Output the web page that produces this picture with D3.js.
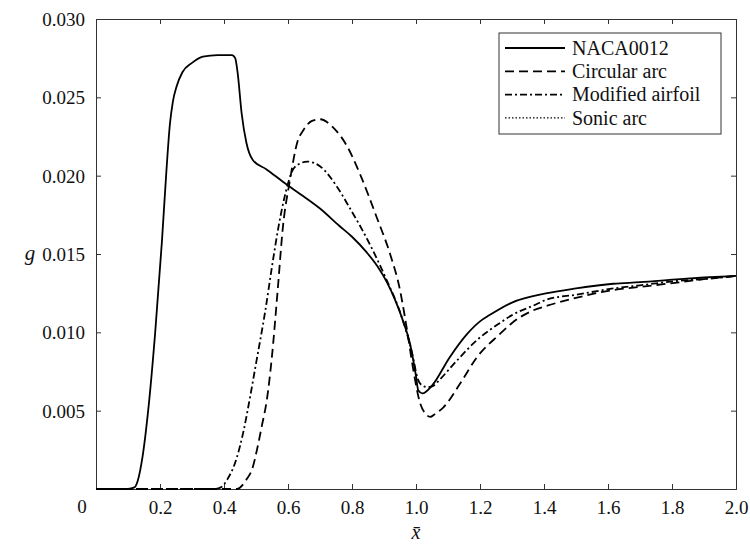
<!DOCTYPE html>
<html>
<head>
<meta charset="utf-8">
<script src="https://cdn.jsdelivr.net/npm/d3@7/dist/d3.min.js"></script>
<style>
  body { margin: 0; background: #fff; }
  svg text { font-family: "Liberation Serif", "DejaVu Serif", "Times New Roman", serif; fill: #111; }
</style>
</head>
<body>
<div id="chart"></div>
<script>
// x-bar positions and g values
const nacaX = [0, 0.10, 0.12, 0.13, 0.145, 0.163, 0.185, 0.206, 0.22, 0.231, 0.24, 0.252, 0.27, 0.30, 0.334, 0.38, 0.425, 0.435, 0.443, 0.455, 0.47, 0.49, 0.533, 0.585, 0.64, 0.70, 0.76, 0.80, 0.846, 0.88, 0.909, 0.934, 0.96, 0.981, 1.0, 1.007, 1.02, 1.05, 1.105, 1.16, 1.2, 1.23, 1.30, 1.41, 1.5, 1.617, 1.7, 1.825, 1.9, 2.0]
const nacaG = [0, 0, 0.0001, 0.0005, 0.002, 0.005, 0.010, 0.0158, 0.0203, 0.0233, 0.0247, 0.0257, 0.0266, 0.0272, 0.0276, 0.0277, 0.0277, 0.0275, 0.0265, 0.024, 0.0221, 0.021, 0.0204, 0.0196, 0.0188, 0.0179, 0.0168, 0.0161, 0.0151, 0.0142, 0.0132, 0.0121, 0.0107, 0.0093, 0.0072, 0.0063, 0.0061, 0.0066, 0.0084, 0.0099, 0.0107, 0.0111, 0.0119, 0.0125, 0.0128, 0.0131, 0.0132, 0.0134, 0.0135, 0.0136]

const arcX = [0, 0.44, 0.47, 0.49, 0.503, 0.518, 0.534, 0.55, 0.567, 0.584, 0.606, 0.63, 0.648, 0.675, 0.70, 0.74, 0.784, 0.825, 0.878, 0.919, 0.95, 0.97, 0.99, 1.0125, 1.03, 1.044, 1.06, 1.085, 1.14, 1.19, 1.2625, 1.30, 1.366, 1.41, 1.5, 1.617, 1.7, 1.825, 1.9, 2.0]
const arcG = [0, 0, 0.0006, 0.0014, 0.0025, 0.004, 0.0057, 0.0085, 0.0125, 0.0167, 0.0197, 0.0222, 0.0229, 0.0235, 0.0236, 0.0231, 0.0219, 0.0201, 0.0173, 0.0150, 0.0127, 0.0104, 0.0078, 0.0055, 0.0048, 0.0046, 0.0048, 0.0052, 0.0068, 0.0084, 0.0099, 0.0106, 0.0114, 0.0117, 0.0122, 0.0127, 0.0129, 0.0132, 0.0134, 0.0136]

const modX = [0, 0.37, 0.39, 0.41, 0.44, 0.46, 0.48, 0.50, 0.53, 0.55, 0.57, 0.59, 0.616, 0.64, 0.66, 0.70, 0.753, 0.794, 0.825, 0.866, 0.909, 0.95, 0.9875, 1.006, 1.02, 1.0375, 1.055, 1.075, 1.128, 1.19, 1.2625, 1.30, 1.366, 1.41, 1.5, 1.617, 1.7, 1.825, 1.9, 2.0]
const modG = [0, 0, 0.0001, 0.0006, 0.002, 0.0036, 0.0057, 0.0080, 0.0115, 0.0142, 0.0167, 0.0187, 0.0204, 0.0208, 0.0209, 0.0206, 0.0193, 0.0179, 0.0168, 0.0152, 0.0133, 0.0113, 0.0087, 0.0070, 0.0066, 0.0065, 0.0066, 0.0070, 0.0082, 0.0095, 0.0106, 0.0111, 0.0117, 0.0121, 0.0124, 0.0128, 0.0130, 0.0133, 0.0134, 0.0136]

const seriesNames = ['NACA0012', 'Circular arc', 'Modified airfoil', 'Sonic arc']
const xTicks = [0.2, 0.4, 0.6, 0.8, 1.0, 1.2, 1.4, 1.6, 1.8, 2.0]
const yTicks = [0.005, 0.010, 0.015, 0.020, 0.025, 0.030]

const dashes = {
  'NACA0012': null,
  'Circular arc': '9,5',
  'Modified airfoil': '7,3,2,3',
  'Sonic arc': '1.5,2'
}

const W = 750
const H = 545
const margin = { top: 19, right: 14, bottom: 56, left: 96 }
const width = W - margin.left - margin.right
const height = H - margin.top - margin.bottom
const serif = '"Liberation Serif", "DejaVu Serif", "Times New Roman", serif'

const svg = d3.select('#chart')
  .append('svg')
  .attr('width', W)
  .attr('height', H)

const g = svg.append('g')
  .attr('transform', `translate(${margin.left},${margin.top})`)

const x = d3.scaleLinear().domain([0, 2]).range([0, width])
const y = d3.scaleLinear().domain([0, 0.03]).range([height, 0])

const frameColor = '#333'

// axes with inward ticks
const axisBottomG = g.append('g')
  .attr('transform', `translate(0,${height})`)
  .call(d3.axisBottom(x).tickValues(xTicks).tickSize(-5).tickPadding(12).tickFormat(d3.format('.1f')))
const axisLeftG = g.append('g')
  .call(d3.axisLeft(y).tickValues(yTicks).tickSize(-5).tickPadding(11).tickFormat(d3.format('.3f')))
const axisTopG = g.append('g')
  .call(d3.axisTop(x).tickValues(xTicks).tickSize(-5).tickFormat(''))
const axisRightG = g.append('g')
  .attr('transform', `translate(${width},0)`)
  .call(d3.axisRight(y).tickValues(yTicks).tickSize(-5).tickFormat(''))

;[axisBottomG, axisLeftG, axisTopG, axisRightG].forEach(a => {
  a.attr('font-family', serif)
  a.select('.domain').attr('stroke', frameColor).attr('stroke-width', 1)
  a.selectAll('.tick line').attr('stroke', frameColor).attr('stroke-width', 1)
  a.selectAll('text')
    .style('font-family', serif)
    .style('font-size', '19px')
    .attr('fill', '#111')
})
axisLeftG.selectAll('text').attr('dy', '0.35em')

// corner zero label
g.append('text')
  .attr('x', -14)
  .attr('y', height + 24)
  .attr('text-anchor', 'middle')
  .style('font-family', serif)
  .style('font-size', '19px')
  .text('0')

// axis titles
g.append('text')
  .attr('x', x(1.0))
  .attr('y', height + 50)
  .attr('text-anchor', 'middle')
  .style('font-family', serif)
  .style('font-size', '20px')
  .style('font-style', 'italic')
  .text('x̄')

g.append('text')
  .attr('x', -66)
  .attr('y', y(0.015))
  .attr('dy', '0.3em')
  .attr('text-anchor', 'middle')
  .style('font-family', serif)
  .style('font-size', '21px')
  .style('font-style', 'italic')
  .text('g')

svg.append('defs').append('clipPath')
  .attr('id', 'plot-clip')
  .append('rect')
  .attr('width', width)
  .attr('height', height + 1)

const line = d3.line()
  .x(d => x(d[0]))
  .y(d => y(d[1]))
  .curve(d3.curveMonotoneX)

const curves = [
  { name: 'NACA0012', xs: nacaX, ys: nacaG },
  { name: 'Circular arc', xs: arcX, ys: arcG },
  { name: 'Modified airfoil', xs: modX, ys: modG }
]

g.append('g')
  .attr('clip-path', 'url(#plot-clip)')
  .selectAll('path')
  .data(curves)
  .join('path')
  .attr('fill', 'none')
  .attr('stroke', '#000')
  .attr('stroke-width', 1.8)
  .attr('stroke-dasharray', d => dashes[d.name])
  .attr('d', d => line(d.xs.map((v, i) => [v, d.ys[i]])))

// legend
const legend = svg.append('g')
  .attr('transform', 'translate(499,33)')

legend.append('rect')
  .attr('width', 222)
  .attr('height', 101)
  .attr('fill', '#fff')
  .attr('stroke', frameColor)
  .attr('stroke-width', 1)

seriesNames.forEach((name, i) => {
  const row = legend.append('g')
    .attr('transform', `translate(0, ${15 + i * 23.3})`)

  row.append('line')
    .attr('x1', 6)
    .attr('x2', 66)
    .attr('stroke', '#000')
    .attr('stroke-width', name === 'Sonic arc' ? 1.2 : 1.8)
    .attr('stroke-dasharray', dashes[name])

  row.append('text')
    .attr('x', 73)
    .attr('dy', '0.33em')
    .style('font-family', serif)
    .style('font-size', '20px')
    .text(name)
})
</script>
</body>
</html>
